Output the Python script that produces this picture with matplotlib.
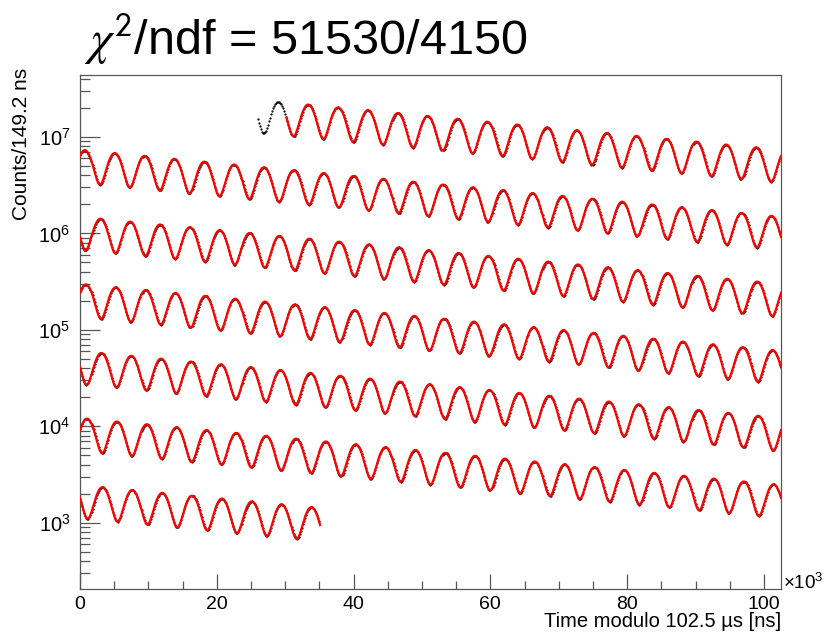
import numpy as np
import matplotlib
matplotlib.use("Agg")
import matplotlib.pyplot as plt
from matplotlib.ticker import LogLocator, MultipleLocator, NullFormatter, FixedLocator

plt.rcParams['font.family'] = ['Liberation Sans', 'DejaVu Sans']
plt.rcParams['mathtext.fontset'] = 'custom'
plt.rcParams['mathtext.rm'] = 'Liberation Sans'
plt.rcParams['mathtext.it'] = 'Liberation Sans:italic'
plt.rcParams['mathtext.bf'] = 'Liberation Sans:bold'

# ---- values (fit parameters, time in microseconds) ----
fit_N0 = 2.66e7          # normalisation at t = 0
fit_tau = 64.0           # dilated lifetime
fit_A = 0.375            # asymmetry
fit_period = 4.365       # precession period
fit_t_peak = 103.23      # time of one maximum
modulo = 102.5           # time modulo for each row
bin_width = 0.1492       # 149.2 ns bins
data_start = 26.0
fit_start = 30.2
data_end = 650.1
n_rows = 7
x_ticks = [0, 20, 40, 60, 80, 100]
y_label_decades = [3, 4, 5, 6, 7]
title_text = r'$\chi^{\mathsf{2}}$/ndf = 51530/4150'
xlabel_text = 'Time modulo 102.5 \u00b5s [ns]'
ylabel_text = 'Counts/149.2 ns'


def model(t):
    return fit_N0 * np.exp(-t / fit_tau) * (
        1 + fit_A * np.cos(2 * np.pi * (t - fit_t_peak) / fit_period))


fig = plt.figure(figsize=(8.27, 6.36), dpi=100)
W, H = 827, 636
ax = fig.add_axes([80 / W, 1 - 589 / H, 701 / W, 514 / H])

t_bins = np.arange(data_start, data_end, bin_width)
for k in range(n_rows):
    lo, hi = k * modulo, (k + 1) * modulo
    # data points
    m = (t_bins >= lo) & (t_bins < hi)
    ax.plot(t_bins[m] - lo, model(t_bins[m]), linestyle='none', marker='.',
            ms=1.2, color='black', zorder=2)
    # fit
    a = max(lo, fit_start)
    b = min(hi, data_end)
    if b > a:
        tf = np.linspace(a, b, 3000)
        ax.plot(tf - lo, model(tf), color='#ff0000', lw=1.6, zorder=3)

ax.set_yscale('log')
ax.set_xlim(0, modulo)
ax.set_ylim(205, 4.4e7)

frame_col = '#555555'
for s in ax.spines.values():
    s.set_color(frame_col)
    s.set_linewidth(0.9)

ax.xaxis.set_major_locator(FixedLocator(x_ticks))
ax.xaxis.set_minor_locator(MultipleLocator(5))
ax.set_xticklabels([str(v) for v in x_ticks])
ax.yaxis.set_major_locator(FixedLocator([10.0 ** d for d in y_label_decades]))
ax.set_yticklabels([r'$10^{%d}$' % d for d in y_label_decades])
ax.yaxis.set_minor_locator(LogLocator(base=10, subs=np.arange(2, 10)))
ax.yaxis.set_minor_formatter(NullFormatter())

ax.tick_params(axis='x', which='major', direction='in', length=11, width=0.9,
               color=frame_col, labelsize=14, pad=5, top=False)
ax.tick_params(axis='x', which='minor', direction='in', length=5.8, width=0.9,
               color=frame_col, top=False)
ax.tick_params(axis='y', which='major', direction='in', length=14.5, width=0.9,
               color=frame_col, labelsize=14.5, pad=7, right=False)
ax.tick_params(axis='y', which='minor', direction='in', length=7.5, width=0.9,
               color=frame_col, right=False)

fig.text(84 / W, 1 - 55 / H, title_text, fontsize=35, ha='left',
         va='baseline', math_fontfamily='stix')
fig.text(22 / W, 1 - 68 / H, ylabel_text, fontsize=15, rotation=90,
         ha='center', va='top')
fig.text(781 / W, 1 - 627 / H, xlabel_text, fontsize=14.5, ha='right',
         va='baseline')
fig.text(783 / W, 1 - 583 / H, r'$\times10^{3}$', fontsize=13.5, ha='left',
         va='center')

fig.savefig('out.png', dpi=100)
